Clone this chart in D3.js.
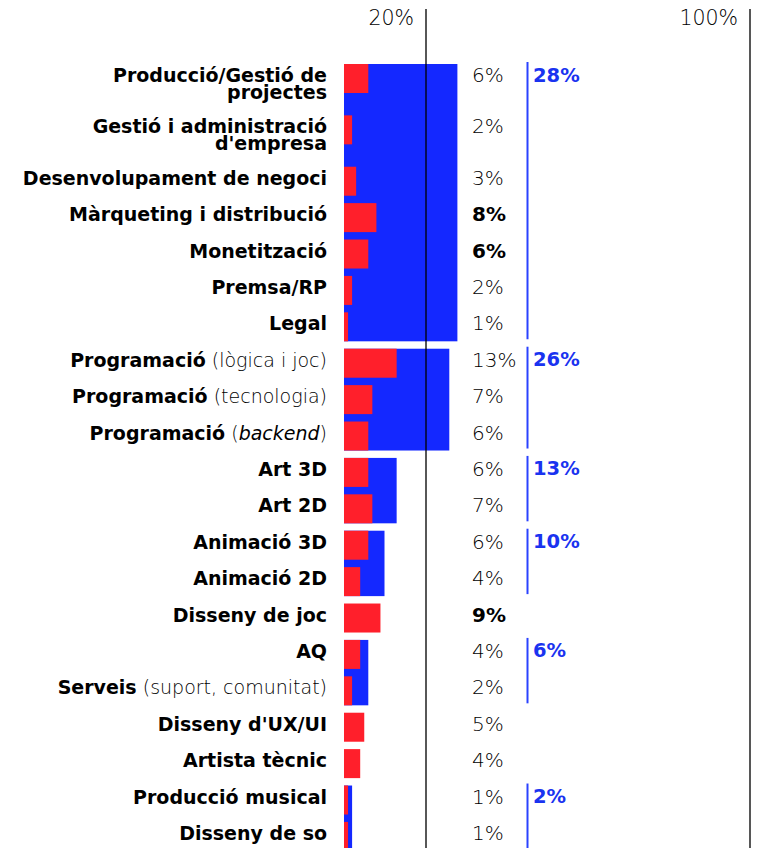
<!DOCTYPE html>
<html>
<head>
<meta charset="utf-8">
<script src="https://cdn.jsdelivr.net/npm/d3@7/dist/d3.min.js"></script>
<style>
  html, body { margin: 0; padding: 0; background: #fff; }
  svg { display: block; }
  .cat { font-family: "DejaVu Sans", sans-serif; font-weight: 700; font-size: 19px; fill: #000; }
  .light { font-family: "DejaVu Sans", sans-serif; font-weight: 200; fill: #000; }
  .val { font-family: "DejaVu Sans", sans-serif; font-size: 20px; fill: #000; }
  .tot { font-family: "DejaVu Sans", sans-serif; font-weight: 700; font-size: 19.5px; fill: #1a33f0; }
</style>
</head>
<body>
<svg id="chart" width="758" height="848"></svg>
<script>
// Job categories; "\n" breaks a name onto a second line
const categories = [
  "Producció/Gestió de\nprojectes", "Gestió i administració\nd'empresa", "Desenvolupament de negoci",
  "Màrqueting i distribució", "Monetització", "Premsa/RP", "Legal",
  "Programació", "Programació", "Programació",
  "Art 3D", "Art 2D", "Animació 3D", "Animació 2D", "Disseny de joc",
  "AQ", "Serveis", "Disseny d'UX/UI", "Artista tècnic", "Producció musical", "Disseny de so"
];
// Lighter qualifier after the name (shown in parentheses); italic ones are flagged separately
const notes = ["", "", "", "", "", "", "", "lògica i joc", "tecnologia", "backend",
  "", "", "", "", "", "", "suport, comunitat", "", "", "", ""];
const italicNotes = ["backend"];
// Share of each category (%)
const values = [6, 2, 3, 8, 6, 2, 1, 13, 7, 6, 6, 7, 6, 4, 9, 4, 2, 5, 4, 1, 1];
// Values printed in bold
const boldValues = [3, 4, 14];
// Grouped areas: first and last category index, and the group's total share (%)
const groupFirst = [0, 7, 10, 12, 15, 19];
const groupLast = [6, 9, 11, 13, 16, 20];
const groupTotals = [28, 26, 13, 10, 6, 2];
// Reference lines on the top axis
const axisTicks = [20, 100];

const RED = "#ff1f2b", BLUE = "#1428ff";
const svg = d3.select("#chart");

const x = d3.scaleLinear().domain([0, 100]).range([344, 749]);

// Vertical layout: each row is one unit, extra label lines add a partial unit
const extraLine = 15 / 36.5;
const lines = categories.map(c => c.split("\n"));
const starts = [];
let acc = 0;
lines.forEach(l => { starts.push(acc); acc += 1 + (l.length - 1) * extraLine; });
const y = d3.scaleLinear().domain([0, acc]).range([64, 64 + acc * 36.4]);
const barH = 29;
const rowTop = i => y(starts[i]);

// Group (blue) bars
const groups = groupTotals.map((t, k) => ({ total: t, first: groupFirst[k], last: groupLast[k] }));
svg.append("g").selectAll("rect").data(groups).join("rect")
  .attr("x", x(0))
  .attr("y", d => rowTop(d.first))
  .attr("width", d => x(d.total) - x(0))
  .attr("height", d => rowTop(d.last) + barH - rowTop(d.first))
  .attr("fill", BLUE);

// Category (red) bars
svg.append("g").selectAll("rect").data(values).join("rect")
  .attr("x", x(0))
  .attr("y", (d, i) => rowTop(i))
  .attr("width", d => x(d) - x(0))
  .attr("height", barH)
  .attr("fill", RED);

// Reference lines and their labels
const ax = svg.append("g");
ax.selectAll("line").data(axisTicks).join("line")
  .attr("x1", d => x(d) + 1).attr("x2", d => x(d) + 1)
  .attr("y1", 9).attr("y2", 848)
  .attr("stroke", "rgba(0,0,0,0.66)").attr("stroke-width", 2);
ax.selectAll("text").data(axisTicks).join("text")
  .attr("class", "light val")
  .attr("x", d => x(d) - 11)
  .attr("y", 25)
  .attr("text-anchor", "end")
  .style("font-size", "20.5px")
  .text(d => d + "%");

// Category labels
const labels = svg.append("g");
categories.forEach((c, i) => {
  const t = labels.append("text")
    .attr("class", "cat")
    .attr("x", 327)
    .attr("y", rowTop(i) + 18)
    .attr("text-anchor", "end");
  lines[i].forEach((ln, j) => {
    t.append("tspan").attr("x", 327).attr("dy", j === 0 ? 0 : 17).text(ln);
    if (j === lines[i].length - 1 && notes[i]) {
      t.append("tspan").attr("class", "light").text(" (");
      t.append("tspan").attr("class", "light")
        .style("font-style", italicNotes.includes(notes[i]) ? "italic" : "normal")
        .text(notes[i]);
      t.append("tspan").attr("class", "light").text(")");
    }
  });
});

// Value labels
svg.append("g").selectAll("text").data(values).join("text")
  .attr("class", (d, i) => "val" + (boldValues.includes(i) ? "" : " light"))
  .style("font-weight", (d, i) => boldValues.includes(i) ? 700 : 200)
  .attr("x", 472)
  .attr("y", (d, i) => rowTop(i) + 18)
  .text(d => d + "%");

// Group brackets and totals
const gt = svg.append("g");
gt.selectAll("line").data(groups).join("line")
  .attr("x1", 527.5).attr("x2", 527.5)
  .attr("y1", d => rowTop(d.first) - 2)
  .attr("y2", d => rowTop(d.last) + barH - 2)
  .attr("stroke", "#2a42ff").attr("stroke-width", 2);
gt.selectAll("text").data(groups).join("text")
  .attr("class", "tot")
  .attr("x", 533)
  .attr("y", d => rowTop(d.first) + 17.5)
  .text(d => d.total + "%");
</script>
</body>
</html>
